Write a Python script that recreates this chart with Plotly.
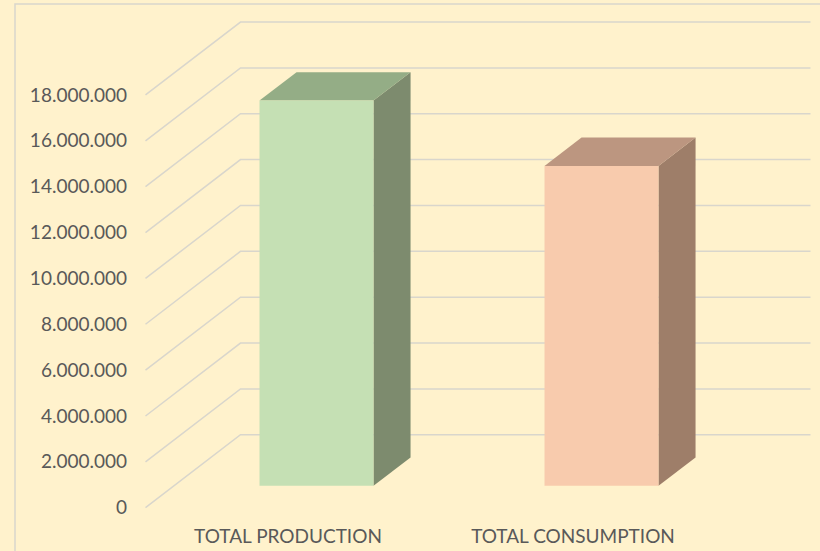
import plotly.graph_objects as go

# ---- data ----
categories = ["TOTAL PRODUCTION", "TOTAL CONSUMPTION"]
values = [16800000, 13950000]
tick_values = [0, 2000000, 4000000, 6000000, 8000000, 10000000,
               12000000, 14000000, 16000000, 18000000]

# ---- style ----
front_colors = ["#C5E0B4", "#F8CBAD"]
side_colors = ["#7D8B6E", "#9E7E69"]
top_colors = ["#94AD86", "#BC9680"]
bg = "#FFF2CC"
grid_color = "#D9D6CC"
text_color = "#595959"

# oblique depth projection (full depth) in data units
DX = 1 / 3          # category units
DY = 3.18e6         # value units
F0, F1 = 0.30, 0.69  # bar front/back depth fractions
HW = 0.2            # half bar width (category units)
X_LEFT, X_RIGHT = -0.5, 1.5

fig = go.Figure()

# gridlines: side wall diagonals + back wall horizontals
for v in tick_values:
    fig.add_trace(go.Scatter(
        x=[X_LEFT, X_LEFT + DX, X_RIGHT + DX],
        y=[v, v + DY, v + DY],
        mode="lines", line=dict(color=grid_color, width=1.5),
        hoverinfo="skip", showlegend=False))

# 3D bars
for i, (cat, v) in enumerate(zip(categories, values)):
    xl0 = i + F0 * DX - HW
    xr0 = i + F0 * DX + HW
    xl1 = i + F1 * DX - HW
    xr1 = i + F1 * DX + HW
    y0f = F0 * DY
    y1f = F1 * DY
    # side face
    fig.add_trace(go.Scatter(
        x=[xr0, xr0, xr1, xr1, xr0],
        y=[y0f, v + y0f, v + y1f, y1f, y0f],
        fill="toself", fillcolor=side_colors[i], mode="lines",
        line=dict(width=0, color=side_colors[i]),
        hoverinfo="skip", showlegend=False))
    # top face
    fig.add_trace(go.Scatter(
        x=[xl0, xr0, xr1, xl1, xl0],
        y=[v + y0f, v + y0f, v + y1f, v + y1f, v + y0f],
        fill="toself", fillcolor=top_colors[i], mode="lines",
        line=dict(width=0, color=top_colors[i]),
        hoverinfo="skip", showlegend=False))
    # front face
    fig.add_trace(go.Scatter(
        x=[xl0, xr0, xr0, xl0, xl0],
        y=[y0f, y0f, v + y0f, v + y0f, y0f],
        fill="toself", fillcolor=front_colors[i], mode="lines",
        line=dict(width=0, color=front_colors[i]),
        name=cat, hovertemplate="%{fullData.name}<extra></extra>",
        showlegend=False))

L, R, T, B = 140, 5, 10, 36
W, H = 820, 551
plot_w = W - L - R
plot_h = H - T - B
px_per_val = 22.93 / 1e6
y_zero_px = 507.7
y_bottom = -((H - B) - y_zero_px) / px_per_val
y_top = (y_zero_px - T) / px_per_val
x_unit = 285.0
x_zero_px = 288.0
x_min = (L - x_zero_px) / x_unit
x_max = (W - R - x_zero_px) / x_unit

fig.add_shape(type="rect", xref="paper", yref="paper",
              x0=(15 - L) / plot_w, x1=1.2,
              y0=-0.3, y1=((H - B) - 4) / plot_h,
              line=dict(color="#D9D6CC", width=1.5), fillcolor="rgba(0,0,0,0)",
              layer="below")

fig.update_layout(
    width=W, height=H,
    margin=dict(l=L, r=R, t=T, b=B),
    paper_bgcolor=bg, plot_bgcolor=bg,
    separators=",.",
    font=dict(family="Lato, 'Open Sans', sans-serif", size=19, color=text_color),
    xaxis=dict(range=[x_min, x_max], tickvals=[0, 1], ticktext=categories,
               showgrid=False, zeroline=False, showline=False, ticks="",
               ticklabelstandoff=8, fixedrange=True),
    yaxis=dict(range=[y_bottom, y_top], tickvals=tick_values, tickformat=",d",
               showgrid=False, zeroline=False, showline=False, ticks="",
               ticklabelstandoff=12, fixedrange=True),
)

fig.write_html(
    "out.html",
    config={"displayModeBar": False},
    post_script="document.body.style.margin='0';"
                "document.body.style.overflow='hidden';"
                "document.body.style.background='" + bg + "';",
)
